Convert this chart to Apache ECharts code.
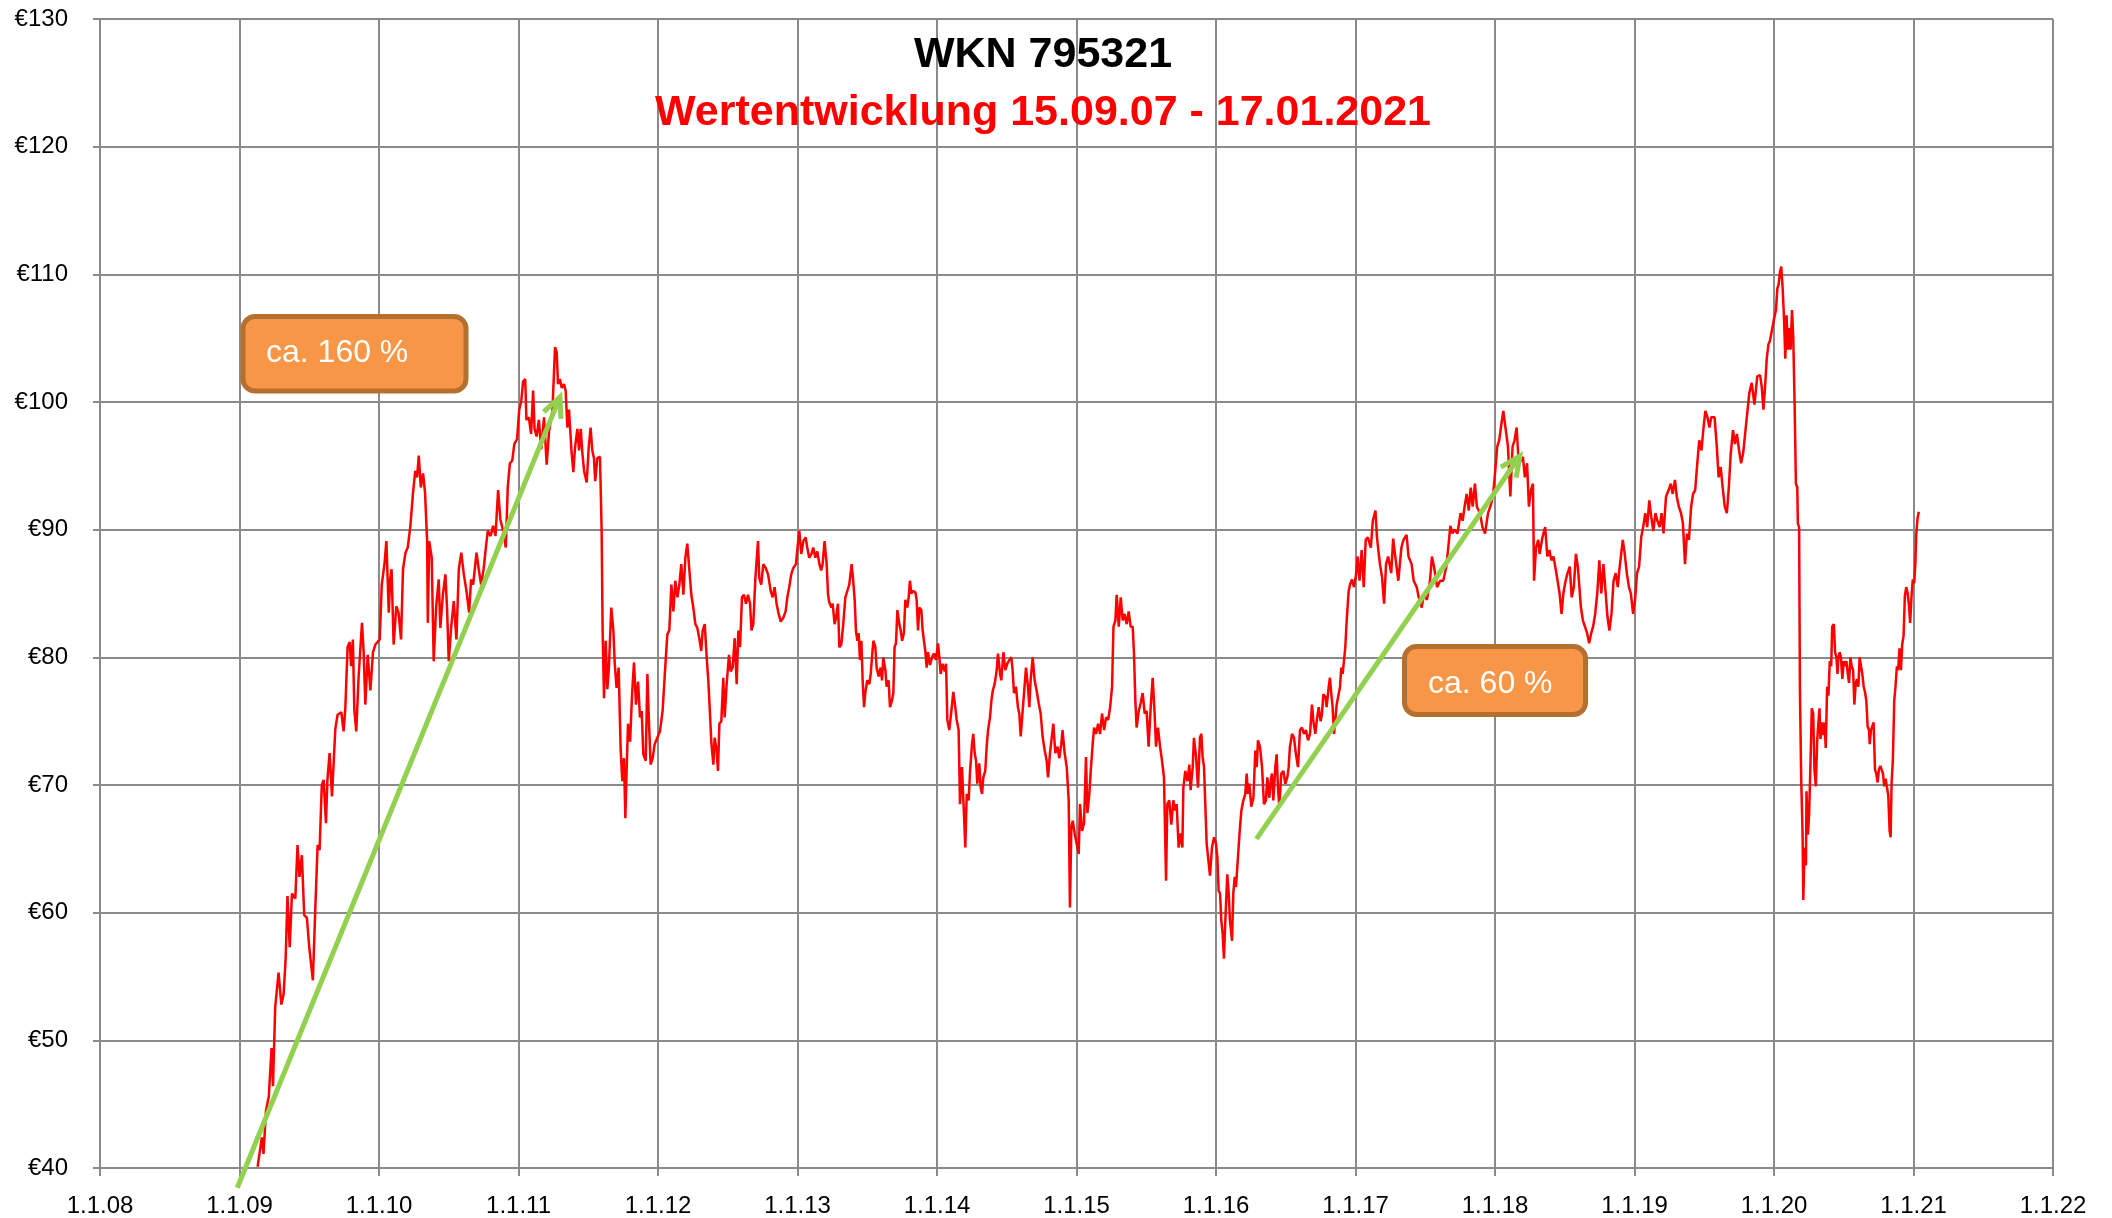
<!DOCTYPE html>
<html>
<head>
<meta charset="utf-8">
<title>WKN 795321</title>
<script src="https://cdn.jsdelivr.net/npm/echarts@6.0.0/dist/echarts.min.js"></script>
<style>
  html, body { margin: 0; padding: 0; background: #fff; }
  #chart { width: 2112px; height: 1218px; }
</style>
</head>
<body>
<div id="chart"></div>
<script>
// Achse: 1.1. jedes Jahres
var xStart = 2008;
var xTickLabels = ['1.1.08', '1.1.09', '1.1.10', '1.1.11', '1.1.12', '1.1.13', '1.1.14', '1.1.15',
                   '1.1.16', '1.1.17', '1.1.18', '1.1.19', '1.1.20', '1.1.21', '1.1.22'];
var yMin = 40, yMax = 130, yStep = 10;

// Kursverlauf (Zeit als Jahresbruchteil, Kurs in Euro)
var years = [
  2009.13, 2009.16, 2009.172, 2009.19, 2009.21, 2009.23, 2009.24, 2009.256, 2009.28, 2009.30,
  2009.316, 2009.33, 2009.344, 2009.36, 2009.376, 2009.40, 2009.416, 2009.43, 2009.447, 2009.464,
  2009.483, 2009.50, 2009.526, 2009.543, 2009.56, 2009.574, 2009.59, 2009.603, 2009.62, 2009.63,
  2009.646, 2009.663, 2009.687, 2009.703, 2009.73, 2009.746, 2009.758, 2009.775, 2009.79, 2009.80,
  2009.813, 2009.823, 2009.837, 2009.854, 2009.878, 2009.89, 2009.902, 2009.919, 2009.938, 2009.957,
  2009.974, 2010.005, 2010.02, 2010.04, 2010.053, 2010.07, 2010.08, 2010.09, 2010.105, 2010.124,
  2010.14, 2010.158, 2010.172, 2010.19, 2010.206, 2010.225, 2010.244, 2010.26, 2010.273, 2010.285,
  2010.30, 2010.316, 2010.33, 2010.345, 2010.35, 2010.36, 2010.378, 2010.392, 2010.41, 2010.428,
  2010.44, 2010.457, 2010.476, 2010.488, 2010.50, 2010.517, 2010.536, 2010.555, 2010.572, 2010.59,
  2010.608, 2010.627, 2010.646, 2010.66, 2010.675, 2010.699, 2010.715, 2010.732, 2010.75, 2010.766,
  2010.78, 2010.80, 2010.818, 2010.835, 2010.854, 2010.87, 2010.89, 2010.909, 2010.923, 2010.938,
  2010.955, 2010.97, 2010.99, 2011.005, 2011.02, 2011.033, 2011.048, 2011.057, 2011.074, 2011.09,
  2011.105, 2011.115, 2011.13, 2011.146, 2011.163, 2011.183, 2011.202, 2011.219, 2011.243, 2011.262,
  2011.274, 2011.283, 2011.297, 2011.31, 2011.326, 2011.338, 2011.35, 2011.362, 2011.379, 2011.393,
  2011.405, 2011.422, 2011.434, 2011.446, 2011.458, 2011.47, 2011.489, 2011.503, 2011.517, 2011.529,
  2011.541, 2011.55, 2011.565, 2011.584, 2011.596, 2011.603, 2011.613, 2011.625, 2011.637, 2011.648,
  2011.665, 2011.68, 2011.69, 2011.703, 2011.718, 2011.732, 2011.744, 2011.756, 2011.766, 2011.775,
  2011.785, 2011.80, 2011.814, 2011.828, 2011.842, 2011.857, 2011.871, 2011.883, 2011.895, 2011.912,
  2011.924, 2011.935, 2011.947, 2011.962, 2011.976, 2011.995, 2012.014, 2012.033, 2012.05, 2012.067,
  2012.081, 2012.096, 2012.11, 2012.124, 2012.139, 2012.153, 2012.167, 2012.182, 2012.196, 2012.21,
  2012.225, 2012.239, 2012.253, 2012.268, 2012.282, 2012.296, 2012.31, 2012.32, 2012.335, 2012.349,
  2012.361, 2012.373, 2012.382, 2012.397, 2012.406, 2012.42, 2012.43, 2012.44, 2012.454, 2012.468,
  2012.478, 2012.492, 2012.509, 2012.521, 2012.535, 2012.55, 2012.564, 2012.576, 2012.588, 2012.602,
  2012.616, 2012.631, 2012.645, 2012.66, 2012.67, 2012.683, 2012.698, 2012.707, 2012.717, 2012.726,
  2012.74, 2012.755, 2012.772, 2012.789, 2012.808, 2012.822, 2012.836, 2012.85, 2012.865, 2012.88,
  2012.898, 2012.915, 2012.927, 2012.941, 2012.955, 2012.97, 2012.989, 2013.003, 2013.013, 2013.027,
  2013.042, 2013.058, 2013.07, 2013.084, 2013.10, 2013.113, 2013.128, 2013.142, 2013.157, 2013.17,
  2013.18, 2013.194, 2013.209, 2013.219, 2013.228, 2013.243, 2013.252, 2013.266, 2013.276, 2013.29,
  2013.30, 2013.314, 2013.328, 2013.343, 2013.357, 2013.371, 2013.388, 2013.40, 2013.41, 2013.419,
  2013.429, 2013.438, 2013.448, 2013.458, 2013.467, 2013.477, 2013.486, 2013.50, 2013.515, 2013.525,
  2013.534, 2013.544, 2013.558, 2013.567, 2013.582, 2013.596, 2013.606, 2013.615, 2013.63, 2013.639,
  2013.653, 2013.663, 2013.677, 2013.687, 2013.696, 2013.706, 2013.716, 2013.73, 2013.74, 2013.75,
  2013.763, 2013.773, 2013.787, 2013.797, 2013.806, 2013.816, 2013.83, 2013.845, 2013.854, 2013.864,
  2013.873, 2013.888, 2013.897, 2013.907, 2013.916, 2013.926, 2013.935, 2013.95, 2013.964, 2013.978,
  2013.993, 2014.007, 2014.017, 2014.026, 2014.04, 2014.055, 2014.065, 2014.074, 2014.088, 2014.103,
  2014.117, 2014.131, 2014.141, 2014.155, 2014.165, 2014.179, 2014.189, 2014.203, 2014.213, 2014.227,
  2014.237, 2014.251, 2014.26, 2014.27, 2014.28, 2014.289, 2014.303, 2014.313, 2014.323, 2014.332,
  2014.346, 2014.356, 2014.366, 2014.38, 2014.39, 2014.40, 2014.413, 2014.428, 2014.437, 2014.452,
  2014.461, 2014.476, 2014.49, 2014.504, 2014.519, 2014.533, 2014.542, 2014.552, 2014.566, 2014.58,
  2014.59, 2014.60, 2014.614, 2014.624, 2014.638, 2014.652, 2014.662, 2014.671, 2014.686, 2014.70,
  2014.714, 2014.729, 2014.743, 2014.757, 2014.772, 2014.786, 2014.796, 2014.81, 2014.824, 2014.834,
  2014.848, 2014.863, 2014.877, 2014.891, 2014.90, 2014.915, 2014.93, 2014.944, 2014.953, 2014.963,
  2014.973, 2014.987, 2015.001, 2015.016, 2015.025, 2015.04, 2015.054, 2015.068, 2015.078, 2015.092,
  2015.102, 2015.116, 2015.126, 2015.14, 2015.155, 2015.169, 2015.183, 2015.198, 2015.212, 2015.227,
  2015.241, 2015.255, 2015.265, 2015.279, 2015.288, 2015.303, 2015.317, 2015.331, 2015.345, 2015.36,
  2015.374, 2015.388, 2015.403, 2015.412, 2015.422, 2015.431, 2015.446, 2015.46, 2015.474, 2015.489,
  2015.503, 2015.517, 2015.532, 2015.546, 2015.56, 2015.57, 2015.584, 2015.599, 2015.613, 2015.627,
  2015.642, 2015.651, 2015.665, 2015.68, 2015.694, 2015.708, 2015.718, 2015.732, 2015.747, 2015.759,
  2015.766, 2015.78, 2015.795, 2015.809, 2015.818, 2015.833, 2015.842, 2015.857, 2015.871, 2015.885,
  2015.895, 2015.904, 2015.914, 2015.924, 2015.933, 2015.947, 2015.957, 2015.971, 2015.986, 2016.0,
  2016.01, 2016.019, 2016.029, 2016.038, 2016.048, 2016.057, 2016.067, 2016.081, 2016.091, 2016.10,
  2016.115, 2016.124, 2016.134, 2016.143, 2016.153, 2016.162, 2016.172, 2016.182, 2016.196, 2016.21,
  2016.22, 2016.229, 2016.239, 2016.253, 2016.268, 2016.282, 2016.292, 2016.301, 2016.315, 2016.33,
  2016.344, 2016.358, 2016.368, 2016.382, 2016.392, 2016.401, 2016.411, 2016.425, 2016.435, 2016.444,
  2016.454, 2016.468, 2016.483, 2016.497, 2016.511, 2016.521, 2016.53, 2016.545, 2016.559, 2016.573,
  2016.588, 2016.602, 2016.616, 2016.631, 2016.645, 2016.66, 2016.674, 2016.688, 2016.698, 2016.712,
  2016.722, 2016.736, 2016.75, 2016.76, 2016.769, 2016.784, 2016.793, 2016.808, 2016.817, 2016.827,
  2016.836, 2016.846, 2016.855, 2016.865, 2016.879, 2016.889, 2016.898, 2016.908, 2016.917, 2016.927,
  2016.937, 2016.951, 2016.961, 2016.975, 2016.989, 2017.004, 2017.015, 2017.029, 2017.044, 2017.059,
  2017.073, 2017.088, 2017.11, 2017.124, 2017.143, 2017.154, 2017.175, 2017.19, 2017.205, 2017.219,
  2017.234, 2017.256, 2017.27, 2017.285, 2017.307, 2017.329, 2017.344, 2017.366, 2017.38, 2017.402,
  2017.417, 2017.439, 2017.453, 2017.475, 2017.49, 2017.512, 2017.534, 2017.548, 2017.563, 2017.585,
  2017.607, 2017.629, 2017.651, 2017.665, 2017.68, 2017.695, 2017.709, 2017.731, 2017.753, 2017.768,
  2017.782, 2017.797, 2017.812, 2017.826, 2017.84, 2017.856, 2017.87, 2017.892, 2017.91, 2017.929,
  2017.95, 2017.972, 2017.987, 2018.0, 2018.016, 2018.03, 2018.046, 2018.06, 2018.075, 2018.093,
  2018.11, 2018.126, 2018.14, 2018.155, 2018.17, 2018.185, 2018.20, 2018.214, 2018.23, 2018.243,
  2018.258, 2018.272, 2018.28, 2018.294, 2018.31, 2018.32, 2018.34, 2018.36, 2018.375, 2018.39,
  2018.404, 2018.419, 2018.44, 2018.463, 2018.477, 2018.49, 2018.506, 2018.52, 2018.536, 2018.55,
  2018.565, 2018.58, 2018.594, 2018.616, 2018.63, 2018.645, 2018.66, 2018.675, 2018.69, 2018.703,
  2018.718, 2018.733, 2018.748, 2018.762, 2018.777, 2018.79, 2018.806, 2018.82, 2018.835, 2018.85,
  2018.865, 2018.88, 2018.894, 2018.916, 2018.93, 2018.945, 2018.96, 2018.974, 2018.99, 2019.004,
  2019.018, 2019.033, 2019.048, 2019.062, 2019.077, 2019.091, 2019.106, 2019.12, 2019.135, 2019.15,
  2019.164, 2019.18, 2019.194, 2019.208, 2019.226, 2019.245, 2019.26, 2019.274, 2019.29, 2019.303,
  2019.318, 2019.333, 2019.347, 2019.362, 2019.376, 2019.39, 2019.406, 2019.42, 2019.435, 2019.45,
  2019.464, 2019.48, 2019.493, 2019.508, 2019.523, 2019.537, 2019.55, 2019.574, 2019.59, 2019.603,
  2019.618, 2019.632, 2019.647, 2019.662, 2019.676, 2019.69, 2019.706, 2019.72, 2019.734, 2019.75,
  2019.764, 2019.779, 2019.793, 2019.808, 2019.823, 2019.84, 2019.86, 2019.88, 2019.9, 2019.912,
  2019.924, 2019.936, 2019.948, 2019.96, 2019.971, 2019.983, 2020.0, 2020.014, 2020.024, 2020.033,
  2020.043, 2020.052, 2020.062, 2020.071, 2020.081, 2020.09, 2020.1, 2020.11, 2020.119, 2020.129,
  2020.138, 2020.148, 2020.157, 2020.167, 2020.171, 2020.18, 2020.186, 2020.195, 2020.205, 2020.21,
  2020.219, 2020.229, 2020.233, 2020.243, 2020.252, 2020.262, 2020.271, 2020.281, 2020.29, 2020.3,
  2020.31, 2020.319, 2020.326, 2020.333, 2020.343, 2020.352, 2020.362, 2020.371, 2020.381, 2020.39,
  2020.4, 2020.41, 2020.417, 2020.429, 2020.438, 2020.448, 2020.455, 2020.462, 2020.471, 2020.48,
  2020.49, 2020.5, 2020.51, 2020.519, 2020.529, 2020.538, 2020.548, 2020.557, 2020.567, 2020.576,
  2020.586, 2020.595, 2020.605, 2020.614, 2020.624, 2020.633, 2020.643, 2020.652, 2020.662, 2020.671,
  2020.681, 2020.686, 2020.695, 2020.705, 2020.714, 2020.724, 2020.733, 2020.743, 2020.752, 2020.762,
  2020.771, 2020.781, 2020.79, 2020.8, 2020.81, 2020.819, 2020.829, 2020.836, 2020.843, 2020.852,
  2020.862, 2020.871, 2020.881, 2020.89, 2020.9, 2020.91, 2020.919, 2020.929, 2020.938, 2020.948,
  2020.957, 2020.967, 2020.976, 2020.986, 2020.995, 2021.005, 2021.014, 2021.019, 2021.029, 2021.038
];
var prices = [
  40.1, 42.4, 41.1, 44.5, 45.6, 49.4, 46.4, 52.6, 55.3, 52.8,
  53.6, 56.2, 61.3, 57.3, 61.5, 61.1, 65.3, 62.8, 64.5, 59.8,
  59.6, 57.3, 54.7, 60.2, 65.3, 64.9, 70.0, 70.4, 67.0, 70.4,
  72.5, 69.1, 74.4, 75.5, 75.7, 74.2, 75.9, 80.8, 81.2, 79.3,
  81.4, 75.9, 74.2, 78.5, 82.7, 80.4, 76.3, 80.2, 77.4, 80.4,
  81.0, 81.4, 85.7, 87.4, 89.1, 83.5, 86.1, 86.9, 81.0, 84.0,
  83.5, 81.4, 86.9, 88.2, 88.6, 90.3, 92.9, 94.6, 94.1, 95.8,
  93.3, 94.4, 92.9, 89.1, 82.7, 89.1, 87.8, 79.7, 84.0, 86.1,
  82.3, 84.8, 86.5, 83.8, 79.7, 82.3, 84.4, 81.4, 86.9, 88.2,
  86.5, 85.2, 83.5, 86.1, 85.7, 88.2, 86.9, 85.7, 86.9, 88.6,
  89.9, 89.5, 90.3, 89.5, 93.1, 90.8, 89.9, 88.6, 93.3, 95.2,
  95.4, 96.7, 97.1, 99.4, 100.1, 101.6, 101.8, 98.6, 98.8, 97.5,
  100.9, 97.9, 97.3, 98.6, 96.3, 98.8, 95.1, 97.7, 99.3, 104.3,
  103.9, 101.4, 101.8, 101.1, 101.4, 100.9, 98.0, 99.4, 96.3, 94.5,
  96.4, 97.9, 96.2, 97.9, 96.0, 94.6, 93.7, 96.4, 98.0, 96.2,
  95.6, 93.8, 95.6, 95.7, 89.9, 82.1, 76.8, 81.3, 77.5, 79.2,
  83.9, 82.1, 79.5, 77.6, 79.2, 72.9, 70.3, 72.1, 67.4, 71.1,
  74.8, 73.4, 77.1, 79.6, 76.3, 78.1, 75.3, 75.8, 72.4, 71.9,
  78.7, 75.0, 71.6, 72.1, 73.2, 73.7, 74.2, 75.8, 78.9, 81.8,
  82.1, 85.7, 83.6, 86.0, 84.7, 85.7, 87.3, 84.9, 87.8, 88.9,
  86.8, 84.9, 83.9, 82.6, 82.3, 81.5, 80.5, 82.1, 82.6, 80.0,
  78.1, 75.5, 73.4, 71.6, 73.7, 72.7, 71.1, 74.8, 75.0, 78.4,
  75.3, 77.9, 80.2, 78.9, 79.2, 81.5, 77.9, 82.1, 80.8, 84.7,
  84.9, 84.2, 84.9, 84.2, 82.1, 82.6, 86.2, 86.2, 89.1, 86.2,
  85.7, 87.3, 87.0, 86.5, 85.2, 84.7, 85.5, 84.2, 83.4, 82.8,
  83.1, 83.6, 84.7, 85.5, 86.5, 87.0, 87.3, 88.9, 89.9, 88.1,
  89.1, 89.4, 88.6, 87.8, 88.1, 88.6, 87.8, 88.3, 87.3, 86.8,
  87.3, 89.1, 87.3, 84.9, 84.3, 83.9, 84.2, 82.6, 83.1, 84.2,
  80.8, 81.0, 82.6, 84.7, 85.2, 85.7, 87.3, 85.9, 84.5, 82.1,
  81.3, 81.9, 79.8, 81.3, 78.2, 76.1, 77.2, 78.2, 77.9, 78.7,
  80.0, 81.3, 80.8, 79.2, 78.5, 79.2, 78.2, 80.0, 79.0, 77.7,
  78.2, 76.1, 76.6, 77.2, 80.8, 81.1, 83.7, 82.6, 82.1, 81.3,
  81.9, 84.5, 83.9, 84.7, 86.0, 85.0, 85.2, 85.1, 84.5, 82.1,
  83.9, 83.7, 82.1, 82.1, 80.5, 79.2, 80.4, 79.4, 80.0, 80.3,
  79.8, 81.1, 80.0, 78.7, 79.5, 78.9, 79.5, 75.1, 74.3, 75.8,
  77.3, 76.1, 75.1, 74.3, 68.5, 71.4, 68.8, 65.1, 69.3, 68.8,
  71.1, 73.2, 74.0, 72.5, 71.9, 70.1, 71.7, 69.8, 69.3, 70.6,
  71.1, 73.0, 74.3, 75.3, 76.6, 77.4, 77.9, 79.0, 80.3, 78.7,
  78.2, 80.4, 79.0, 79.5, 79.8, 80.0, 79.0, 77.2, 77.7, 76.1,
  75.6, 73.8, 75.8, 77.2, 79.2, 77.7, 76.1, 78.2, 80.0, 78.2,
  77.4, 76.4, 75.6, 73.8, 72.7, 71.9, 70.6, 72.5, 72.5, 74.8,
  72.5, 73.0, 72.1, 73.2, 74.3, 72.5, 71.4, 68.8, 60.4, 66.7,
  67.2, 66.2, 65.4, 64.6, 68.5, 66.4, 67.0, 72.2, 67.8, 69.3,
  71.1, 73.2, 74.5, 74.0, 74.8, 74.0, 75.6, 74.3, 75.3, 75.1,
  76.1, 77.7, 82.4, 82.9, 84.9, 82.4, 84.7, 82.9, 83.4, 82.6,
  83.6, 82.4, 82.4, 80.3, 76.6, 74.5, 75.8, 76.4, 77.2, 75.6,
  75.8, 73.0, 76.1, 78.4, 75.6, 73.0, 74.5, 73.0, 71.9, 70.6,
  62.5, 68.5, 68.8, 66.9, 68.8, 68.0, 68.5, 65.1, 66.2, 65.1,
  69.8, 71.1, 70.3, 71.6, 69.6, 71.4, 73.7, 72.2, 69.8, 73.7,
  74.0, 72.2, 71.4, 68.3, 65.4, 65.4, 62.9, 65.1, 65.9, 65.4,
  64.3, 61.7, 61.5, 59.4, 58.3, 56.4, 59.4, 63.0, 61.5, 59.4,
  57.8, 61.5, 62.8, 62.0, 63.6, 65.1, 66.7, 68.0, 68.8, 69.3,
  70.9, 69.3, 70.1, 68.3, 69.0, 72.7, 71.4, 73.5, 73.0, 71.4,
  68.5, 68.8, 70.6, 69.0, 70.3, 70.9, 68.8, 71.4, 72.4, 69.8,
  68.3, 70.9, 71.1, 70.1, 70.6, 71.4, 73.0, 74.0, 73.7, 72.4,
  71.4, 74.3, 74.5, 74.0, 74.3, 73.5, 74.0, 76.3, 75.0, 74.0,
  75.0, 76.1, 75.0, 75.6, 77.1, 76.9, 76.1, 77.7, 78.4, 77.1,
  76.1, 74.0, 75.0, 76.3, 77.1, 77.7, 79.2, 78.7, 78.7, 80.8,
  82.9, 85.2, 85.7, 86.1, 85.5, 86.5, 87.9, 86.0, 88.4, 85.5,
  89.2, 89.4, 88.6, 90.7, 91.5, 89.4, 87.3, 86.3, 84.2, 87.3,
  87.9, 86.6, 89.3, 87.9, 86.0, 88.6, 89.2, 89.6, 87.9, 87.3,
  86.0, 85.5, 84.7, 83.9, 85.0, 84.5, 86.0, 87.9, 87.1, 85.5,
  86.0, 86.0, 87.1, 88.6, 90.3, 89.7, 90.0, 89.7, 91.3, 90.7,
  91.8, 92.8, 91.5, 93.3, 91.8, 93.6, 91.8, 91.3, 90.2, 89.7,
  91.3, 92.0, 92.8, 94.4, 96.5, 97.0, 98.3, 99.3, 98.0, 96.5,
  92.6, 96.5, 97.0, 98.0, 95.2, 95.4, 95.7, 94.1, 95.2, 91.8,
  93.1, 93.6, 86.0, 88.6, 89.2, 88.1, 89.4, 90.2, 87.9, 88.4,
  87.6, 87.9, 86.6, 85.0, 83.4, 85.0, 86.0, 86.6, 87.1, 84.7,
  85.5, 88.1, 87.1, 83.9, 82.9, 82.4, 81.9, 81.1, 81.9, 82.4,
  83.4, 85.0, 87.6, 85.0, 87.3, 85.5, 83.2, 82.1, 83.4, 86.0,
  86.6, 85.5, 87.1, 89.2, 88.1, 86.6, 85.5, 85.0, 83.4, 84.5,
  86.6, 87.1, 89.4, 90.2, 91.3, 90.2, 92.3, 91.0, 89.9, 91.3,
  90.7, 90.2, 91.3, 89.7, 92.6, 93.1, 93.6, 92.8, 93.9, 92.6,
  91.8, 91.3, 90.5, 87.3, 89.7, 89.2, 91.8, 92.8, 93.1, 95.2,
  97.0, 96.2, 97.8, 99.3, 98.8, 98.0, 98.8, 98.8, 96.5, 94.1,
  94.9, 93.3, 91.8, 91.3, 93.3, 96.0, 97.8, 96.7, 97.5, 96.2,
  95.2, 96.0, 97.5, 99.1, 100.7, 101.5, 99.8, 102.0, 102.1, 101.2,
  99.4, 101.2, 103.4, 104.5, 104.8, 105.5, 106.5, 107.2, 108.9, 109.2,
  110.2, 110.6, 108.9, 106.8, 103.4, 106.8, 104.1, 105.8, 104.1, 107.2,
  105.1, 99.7, 93.6, 93.3, 90.5, 90.2, 77.3, 70.5, 66.1, 61.0,
  65.1, 63.7, 69.5, 66.1, 67.8, 71.9, 76.0, 75.6, 71.2, 69.9,
  73.6, 73.6, 76.0, 73.6, 74.9, 73.9, 74.9, 72.9, 77.7, 77.0,
  79.7, 79.3, 82.4, 82.6, 80.4, 80.0, 78.7, 80.0, 80.4, 80.0,
  78.3, 79.7, 79.3, 79.7, 78.7, 78.0, 80.0, 79.3, 79.0, 76.3,
  78.0, 78.3, 77.7, 80.0, 79.3, 78.7, 77.7, 77.3, 76.6, 74.6,
  74.3, 73.2, 74.3, 74.6, 74.9, 71.2, 70.9, 70.2, 71.2, 71.5,
  71.5, 70.9, 69.9, 70.5, 70.5, 69.2, 66.4, 65.9, 70.2, 71.9,
  76.6, 77.7, 79.3, 79.0, 80.7, 79.0, 81.0, 81.7, 84.8, 85.5,
  85.1, 84.1, 82.7, 84.8, 86.1, 85.8, 87.5, 89.5, 90.9, 91.4
];

// Trendpfeile (Anfang/Ende in Achsenwerten) und Beschriftungen
var arrows = [
  { from: [2008.984, 38.45], to: [2011.297, 100.4] },
  { from: [2016.29, 65.78], to: [2018.178, 95.77] }
];
var notes = [
  { text: 'ca. 160 %', box: [243, 316.5, 223, 74.5], tx: 266, ty: 353 },
  { text: 'ca. 60 %', box: [1404.5, 646.5, 181, 68], tx: 1428, ty: 684 }
];

(function () {
  var FONT = '"Liberation Sans", Arial, sans-serif';
  var GRID_COLOR = '#8a8a8a';
  var GREEN = '#92D050';

  var data = years.map(function (t, i) { return [t, prices[i]]; });

  var option = {
    animation: false,
    backgroundColor: '#ffffff',
    title: [
      {
        text: 'WKN 795321',
        left: 1038, top: 29, textAlign: 'center',
        textStyle: { fontFamily: FONT, fontSize: 43, fontWeight: 'bold', color: '#000' }
      },
      {
        text: 'Wertentwicklung 15.09.07 - 17.01.2021',
        left: 1038, top: 87, textAlign: 'center',
        textStyle: { fontFamily: FONT, fontSize: 43, fontWeight: 'bold', color: '#FF0000' }
      }
    ],
    grid: { left: 100, right: 59, top: 19, bottom: 50 },
    xAxis: {
      type: 'value',
      min: xStart,
      max: xStart + xTickLabels.length - 1,
      interval: 1,
      axisLine: { onZero: false, lineStyle: { color: GRID_COLOR, width: 2 } },
      axisTick: { show: true, length: 8, lineStyle: { color: GRID_COLOR, width: 2 } },
      axisLabel: {
        margin: 26, fontSize: 24, color: '#000', fontFamily: FONT,
        formatter: function (v) { return xTickLabels[Math.round(v - xStart)] || ''; }
      },
      splitLine: { show: true, lineStyle: { color: GRID_COLOR, width: 2 } }
    },
    yAxis: {
      type: 'value',
      min: yMin, max: yMax, interval: yStep,
      axisLine: { show: true, lineStyle: { color: GRID_COLOR, width: 2 } },
      axisTick: { show: true, length: 7, lineStyle: { color: GRID_COLOR, width: 2 } },
      axisLabel: { margin: 32, fontSize: 24, color: '#000', fontFamily: FONT, formatter: '€{value}' },
      splitLine: { show: true, lineStyle: { color: GRID_COLOR, width: 2 } }
    },
    series: [
      {
        name: 'WKN 795321',
        type: 'line',
        data: data,
        showSymbol: false,
        symbol: 'none',
        silent: true,
        lineStyle: { color: '#FF0000', width: 2.5 }
      }
    ]
  };

  var myChart = echarts.init(document.getElementById('chart'));
  myChart.setOption(option);

  // Pfeile und Kästchen als Grafik obendrauf
  var elements = [];
  arrows.forEach(function (a) {
    var p1 = myChart.convertToPixel({ gridIndex: 0 }, a.from);
    var p2 = myChart.convertToPixel({ gridIndex: 0 }, a.to);
    var dx = p2[0] - p1[0], dy = p2[1] - p1[1];
    var len = Math.sqrt(dx * dx + dy * dy);
    var rx = -dx / len, ry = -dy / len;
    var head = 22, ang = 25 * Math.PI / 180;
    function wing(s) {
      var c = Math.cos(s * ang), sn = Math.sin(s * ang);
      return [p2[0] + head * (rx * c - ry * sn), p2[1] + head * (rx * sn + ry * c)];
    }
    elements.push({
      type: 'line', z: 100, silent: true,
      shape: { x1: p1[0], y1: p1[1], x2: p2[0], y2: p2[1] },
      style: { stroke: GREEN, lineWidth: 5 }
    });
    elements.push({
      type: 'polyline', z: 100, silent: true,
      shape: { points: [wing(1), p2, wing(-1)] },
      style: { stroke: GREEN, lineWidth: 5, fill: null, lineJoin: 'miter' }
    });
  });
  notes.forEach(function (n) {
    elements.push({
      type: 'rect', z: 110, silent: true,
      shape: { x: n.box[0], y: n.box[1], width: n.box[2], height: n.box[3], r: 12 },
      style: { fill: '#F79646', stroke: '#B5702F', lineWidth: 5 }
    });
    elements.push({
      type: 'text', z: 111, silent: true,
      x: n.tx, y: n.ty,
      style: { text: n.text, fill: '#ffffff', fontSize: 32, fontFamily: FONT, align: 'left', verticalAlign: 'middle' }
    });
  });
  myChart.setOption({ graphic: { elements: elements } });
})();
</script>
</body>
</html>
